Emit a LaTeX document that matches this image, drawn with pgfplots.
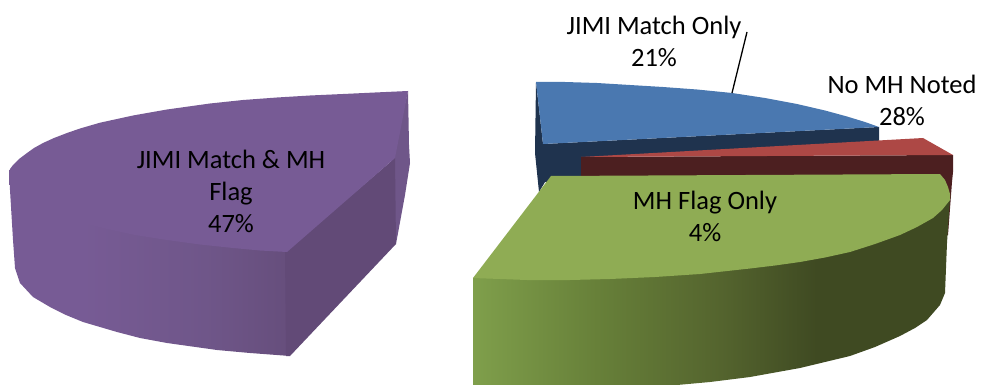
\documentclass[border=0pt]{standalone}
\usepackage{fontspec}
\setmainfont{Carlito}
\usepackage{pgfplots}
\pgfplotsset{compat=1.18}
\definecolor{purpletop}{HTML}{775B95}
\definecolor{purplemid}{HTML}{6F5689}
\definecolor{purpler}{HTML}{664E7C}
\definecolor{purpledark}{HTML}{624A77}
\definecolor{purplefacet}{HTML}{6F5689}
\definecolor{bluetop}{HTML}{4A78B0}
\definecolor{bluedark}{HTML}{1F334E}
\definecolor{redtop}{HTML}{AD4845}
\definecolor{reddark}{HTML}{4C1F20}
\definecolor{greentop}{HTML}{8FAC54}
\definecolor{greena}{HTML}{7F9F4B}
\definecolor{greenb}{HTML}{678039}
\definecolor{greenc}{HTML}{54642E}
\definecolor{greend}{HTML}{3F4A22}
\pgfdeclarehorizontalshading{greenside}{100bp}{color(0bp)=(greena); color(25bp)=(greena); color(38bp)=(greenb); color(51bp)=(greenc); color(61bp)=(greend); color(100bp)=(greend)}
\pgfdeclarehorizontalshading{purpleside}{100bp}{color(0bp)=(purpletop); color(38bp)=(purpletop); color(60bp)=(purplemid); color(75bp)=(purpler); color(100bp)=(purpler)}
\newcommand{\lbl}{\fontsize{26.5}{32}\selectfont}
\begin{document}
\begin{tikzpicture}[x=1pt,y=1pt]
\useasboundingbox (0,0) rectangle (982,385);
\begin{axis}[
    at={(0,0)}, anchor=south west,
    scale only axis,
    width=982pt, height=385pt,
    xmin=0, xmax=982, ymin=0, ymax=385,
    y dir=reverse,
    hide axis,
    clip=true,
]
% purple slice: curved side, cut faces, top
\addplot[draw=none, shading=purpleside] coordinates {
  (9,170) (10,190) (13,240) (15,268) (20,283) (33,297) (50,307) (66,315) (83,322) (117,332) (140,338) (167,343) (217,350) (250,353) (290,356) (290,240)
} --cycle;
\addplot[draw=none, fill=purplefacet] coordinates {(408,91) (409,145) (410,163) (405,195) (396,244) (390,170)} --cycle;
\addplot[draw=none, fill=purpledark] coordinates {(285,252) (395,158) (396,244) (290,356) (286,356)} --cycle;
\addplot[draw=none, fill=purpletop] coordinates {
  (408,91) (375,92.5) (343,94) (310,95.5) (277,97.5) (243,100) (210,103.5) (167,109.5) (133,115.5) (100,122.7) (80,128.5) (67,133) (54,138) (43,143) (34,148) (27,153) (19,159) (13,165) (10,169) (9,173)
  (10,180) (18,192) (32,203) (50,213) (75,221) (107,229) (135,235) (167,240) (200,244.5) (233,248) (260,250.5) (287,252) (395,158)
} --cycle;
% blue slice
\addplot[draw=none, fill=bluedark] coordinates {(536,82) (543,144) (879,127) (879,142) (581,158) (581,182) (545,182) (539,192) (535,153)} --cycle;
\addplot[draw=none, fill=bluetop] coordinates {
  (536,82) (565,82) (597,83) (630,85) (663,87) (697,89.5) (732,93) (765,98) (797,104) (825,110.5) (847,116.5) (865,122) (879,127) (543,144)
} --cycle;
% red slice
\addplot[draw=none, fill=reddark] coordinates {(581,157) (953,155) (953,172) (952,182) (948,235) (900,240) (581,240)} --cycle;
\addplot[draw=none, fill=redtop] coordinates {(581,157) (923,138) (953,155)} --cycle;
% green slice
\addplot[draw=none, shading=greenside] coordinates {
  (473,278) (473,385) (677,385) (710,382) (750,377) (800,368) (850,356) (875,347) (900,336) (915,328) (927,320) (940,305) (945,293) (947,243) (950,198)
} --cycle;
\addplot[draw=none, fill=greentop] coordinates {
  (551,176) (940,174) (945,180) (948,187) (950,194) (950,200) (942,210) (933,218) (917,227) (900,235) (875,244) (850,252) (825,257.5) (800,262) (775,265.5) (750,268.5) (700,274) (655,277) (610,279) (570,280) (527,280) (473,278)
} --cycle;
% leader line
\addplot[black, line width=1.3pt] coordinates {(747,32) (732,93)};
% labels
\node[font=\lbl, align=center] at (axis cs:654,41) {JIMI Match Only\\21\%};
\node[font=\lbl, align=center] at (axis cs:902,100) {No MH Noted\\28\%};
\node[font=\lbl, align=center] at (axis cs:705,216.5) {MH Flag Only\\4\%};
\node[font=\lbl, align=center] at (axis cs:231,191) {JIMI Match \& MH\\Flag\\47\%};
\end{axis}
\end{tikzpicture}
\end{document}
